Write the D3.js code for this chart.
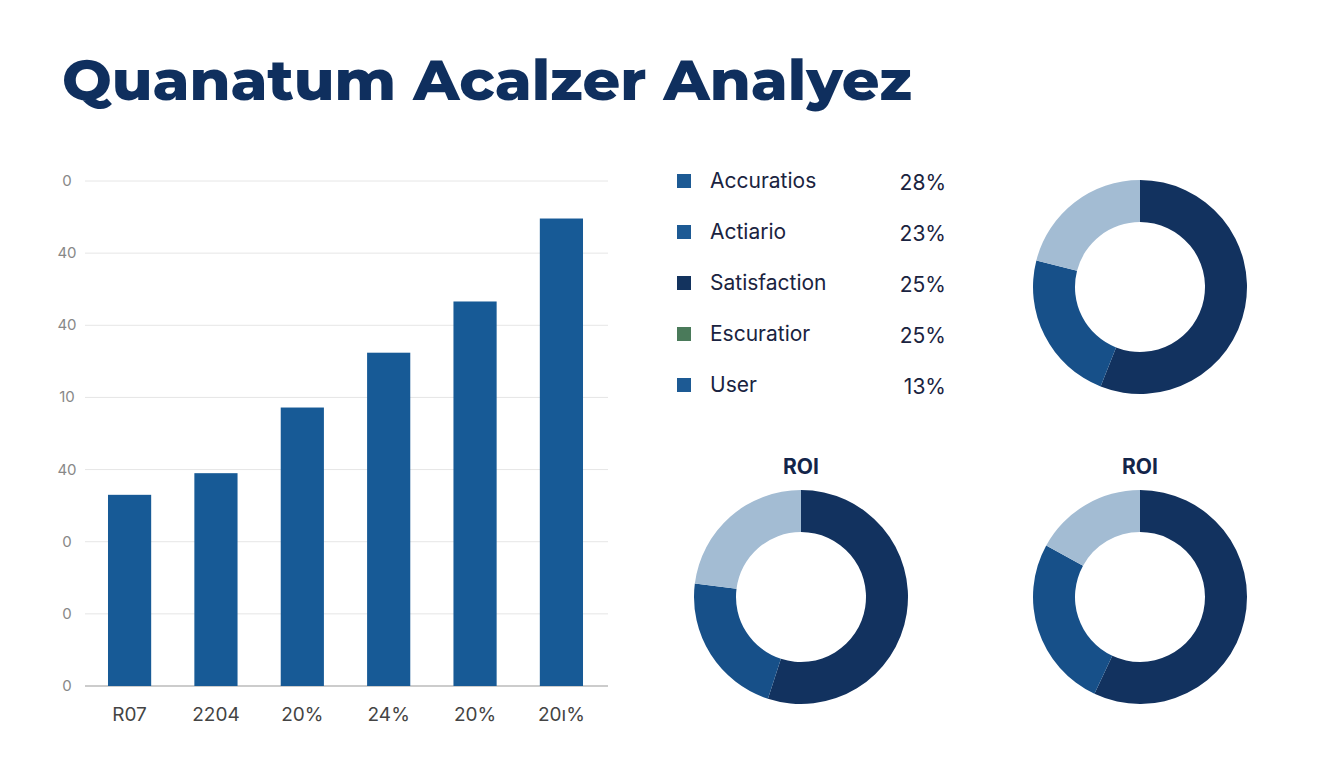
<!DOCTYPE html>
<html><head><meta charset="utf-8">
<script src="https://cdn.jsdelivr.net/npm/d3@7/dist/d3.min.js"></script>
<style>body{margin:0;background:#fff}svg{display:block}</style></head>
<body><svg id="c" width="1344" height="768"></svg>
<script>
const categories=["R07","2204","20%","24%","20%","20\u0131%"];
const barValues=[2.65,2.95,3.86,4.62,5.33,6.48];
const yTickLabels=["0","0","0","40","10","40","40","0"];
const legendNames=["Accuratios","Actiario","Satisfaction","Escuratior","User"];
const legendPct=["28%","23%","25%","25%","13%"];
const legendColors=["#1d5a94","#1d5a94","#13335e","#4a7a5a","#1d5a94"];
const donutTitles=["","ROI","ROI"];
const donutValues=[[56,23,21],[55,22,23],[57,26,17]];
const donutColors=["#12325f","#175089","#a3bcd3"];

const svg=d3.select("#c");
svg.append("text").attr("x",62).attr("y",100).attr("font-family","Montserrat, Inter, sans-serif")
 .attr("font-weight",800).attr("font-size",56).attr("textLength",850).attr("lengthAdjust","spacingAndGlyphs")
 .attr("fill","#0f2f5e").text("Quanatum Acalzer Analyez");

const y=d3.scaleLinear().domain([0,7]).range([686,181]);
const x=d3.scaleBand().domain(d3.range(categories.length)).range([86.4,604.6]).paddingInner(0.5).paddingOuter(0.25);
const g=svg.append("g");
g.selectAll("line.grid").data(d3.range(8)).join("line")
 .attr("x1",85).attr("x2",608).attr("y1",d=>y(d)).attr("y2",d=>y(d))
 .attr("stroke",d=>d===0?"#bbb":"#e6e6e6").attr("stroke-width",d=>d===0?1.5:1);
g.selectAll("text.yt").data(yTickLabels).join("text")
 .attr("x",67).attr("y",(d,i)=>y(i)+5).attr("text-anchor","middle")
 .attr("font-family","Inter, sans-serif").attr("font-size",15).attr("fill","#888").text(d=>d);
g.selectAll("rect").data(barValues).join("rect")
 .attr("x",(d,i)=>x(i)).attr("width",x.bandwidth()).attr("y",d=>y(d)).attr("height",d=>y(0)-y(d)).attr("fill","#175a96");
g.selectAll("text.xt").data(categories).join("text")
 .attr("x",(d,i)=>x(i)+x.bandwidth()/2).attr("y",721).attr("text-anchor","middle")
 .attr("font-family","Inter, sans-serif").attr("font-size",19).attr("fill","#444").text(d=>d);

const lg=svg.append("g");
legendNames.forEach((n,i)=>{
 const yy=181+i*51;
 lg.append("rect").attr("x",677).attr("y",yy-7).attr("width",14).attr("height",14).attr("fill",legendColors[i]);
 lg.append("text").attr("x",710).attr("y",yy+7).attr("font-family","Inter, sans-serif").attr("font-size",21).attr("fill","#1a2340").text(n);
 lg.append("text").attr("x",946).attr("y",yy+9).attr("text-anchor","end").attr("font-family","Inter, sans-serif").attr("font-size",21).attr("fill","#1a2340").text(legendPct[i]);
});

const centers=[[1140,287],[801,597],[1140,597]];
const pie=d3.pie().sort(null);
const arc=d3.arc().innerRadius(65).outerRadius(107);
donutValues.forEach((vals,k)=>{
 const dg=svg.append("g").attr("transform",`translate(${centers[k][0]},${centers[k][1]})`);
 dg.selectAll("path").data(pie(vals)).join("path").attr("d",arc).attr("fill",(d,i)=>donutColors[i]);
 if(donutTitles[k]) svg.append("text").attr("x",centers[k][0]).attr("y",centers[k][1]-123).attr("text-anchor","middle")
  .attr("font-family","Inter, sans-serif").attr("font-weight",700).attr("font-size",21).attr("fill","#13254a").text(donutTitles[k]);
});
</script></body></html>
